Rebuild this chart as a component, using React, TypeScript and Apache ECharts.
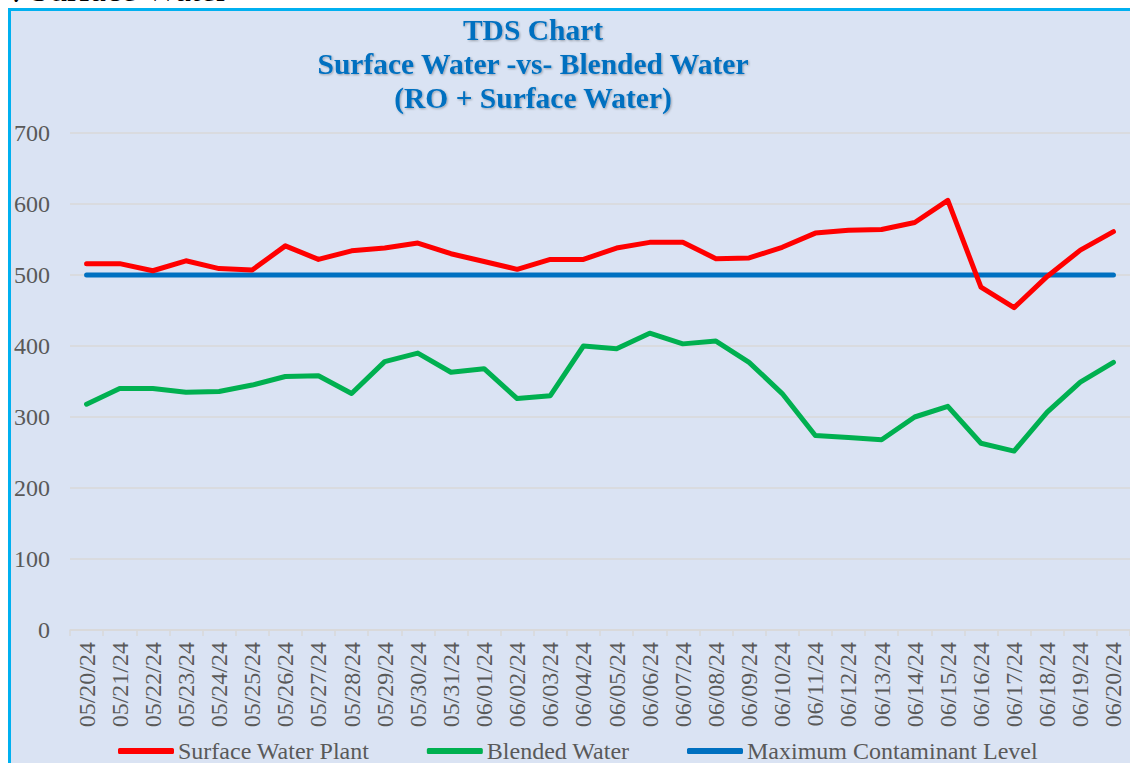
import React, { useEffect, useRef } from "react";
import * as echarts from "echarts";

const dates = [
  "05/20/24", "05/21/24", "05/22/24", "05/23/24", "05/24/24", "05/25/24", "05/26/24", "05/27/24",
  "05/28/24", "05/29/24", "05/30/24", "05/31/24", "06/01/24", "06/02/24", "06/03/24", "06/04/24",
  "06/05/24", "06/06/24", "06/07/24", "06/08/24", "06/09/24", "06/10/24", "06/11/24", "06/12/24",
  "06/13/24", "06/14/24", "06/15/24", "06/16/24", "06/17/24", "06/18/24", "06/19/24", "06/20/24",
];

const surfaceWater = [
  516, 516, 506, 520, 509, 507, 541, 522, 534, 538, 545, 530, 519, 508, 522, 522,
  538, 546, 546, 523, 524, 539, 559, 563, 564, 574, 605, 483, 454, 498, 535, 561,
];

const blendedWater = [
  318, 340, 340, 335, 336, 345, 357, 358, 333, 378, 390, 363, 368, 326, 330, 400,
  396, 418, 403, 407, 377, 333, 274, 271, 268, 300, 315, 263, 252, 307, 349, 377,
];

const maxContaminant = dates.map(() => 500);

const seriesNames = ["Surface Water Plant", "Blended Water", "Maximum Contaminant Level"];
const titleLines = ["TDS Chart", "Surface Water -vs- Blended Water", "(RO + Surface Water)"];
const headingText = "Surface Water";

const FONT = "'Liberation Serif', 'Times New Roman', serif";
const GREY = "#595959";

export default function App() {
  const ref = useRef<HTMLDivElement>(null);

  useEffect(() => {
    if (!ref.current) return;
    const chart = echarts.init(ref.current, undefined, { renderer: "svg" });
    chart.setOption({
      animation: false,
      backgroundColor: "#ffffff",
      textStyle: { fontFamily: FONT },
      graphic: [
        {
          type: "rect",
          z: -10,
          silent: true,
          shape: { x: 9.5, y: 9.5, width: 1140, height: 770 },
          style: { fill: "#DAE3F3", stroke: "#00B0F0", lineWidth: 3 },
        },
        {
          type: "text",
          x: 11,
          y: 7,
          style: {
            text: "✓",
            font: `20px ${FONT}`,
            fill: "#000000",
            verticalAlign: "bottom",
          },
        },
        {
          type: "text",
          x: 30,
          y: 7,
          style: {
            text: headingText,
            font: `35px ${FONT}`,
            fill: "#000000",
            verticalAlign: "bottom",
          },
        },
        {
          type: "text",
          x: 533,
          y: 13,
          style: {
            text: titleLines.join("\n"),
            font: `bold 29.5px ${FONT}`,
            lineHeight: 34,
            fill: "#0070C0",
            align: "center",
            verticalAlign: "top",
            textShadowColor: "rgba(0,0,0,0.3)",
            textShadowBlur: 2,
            textShadowOffsetX: 1,
            textShadowOffsetY: 1,
          },
        },
      ],
      grid: { left: 70, right: -1, top: 133, bottom: 133, containLabel: false },
      legend: {
        bottom: -5,
        left: 113,
        itemWidth: 56,
        itemHeight: 6,
        itemGap: 57.5,
        icon: "roundRect",
        textStyle: { fontFamily: FONT, fontSize: 24, color: GREY, padding: [0, 0, 0, -1] },
        data: seriesNames,
      },
      xAxis: {
        type: "category",
        data: dates,
        boundaryGap: true,
        axisLine: { lineStyle: { color: "#D9D9D9", width: 1.5 } },
        axisTick: { show: true, length: 6, lineStyle: { color: "#D9D9D9", width: 1.5 } },
        axisLabel: {
          rotate: 90,
          interval: 0,
          margin: 12,
          fontFamily: FONT,
          fontSize: 24,
          color: GREY,
        },
        splitLine: { show: false },
      },
      yAxis: {
        type: "value",
        min: 0,
        max: 700,
        interval: 100,
        axisLine: { show: false },
        axisTick: { show: false },
        axisLabel: { fontFamily: FONT, fontSize: 24, color: GREY, margin: 20 },
        splitLine: { lineStyle: { color: "#D9D9D9", width: 1.5 } },
      },
      series: [
        {
          name: seriesNames[0],
          type: "line",
          data: surfaceWater,
          symbol: "none",
          lineStyle: { color: "#FF0000", width: 5, cap: "round", join: "round" },
          itemStyle: { color: "#FF0000" },
          z: 4,
        },
        {
          name: seriesNames[1],
          type: "line",
          data: blendedWater,
          symbol: "none",
          lineStyle: { color: "#00B050", width: 5, cap: "round", join: "round" },
          itemStyle: { color: "#00B050" },
          z: 3,
        },
        {
          name: seriesNames[2],
          type: "line",
          data: maxContaminant,
          symbol: "none",
          lineStyle: { color: "#0070C0", width: 5, cap: "round", join: "round" },
          itemStyle: { color: "#0070C0" },
          z: 2,
        },
      ],
    });
    return () => chart.dispose();
  }, []);

  return (
    <div
      ref={ref}
      style={{ position: "fixed", left: 0, top: 0, width: 1130, height: 763 }}
    />
  );
}
